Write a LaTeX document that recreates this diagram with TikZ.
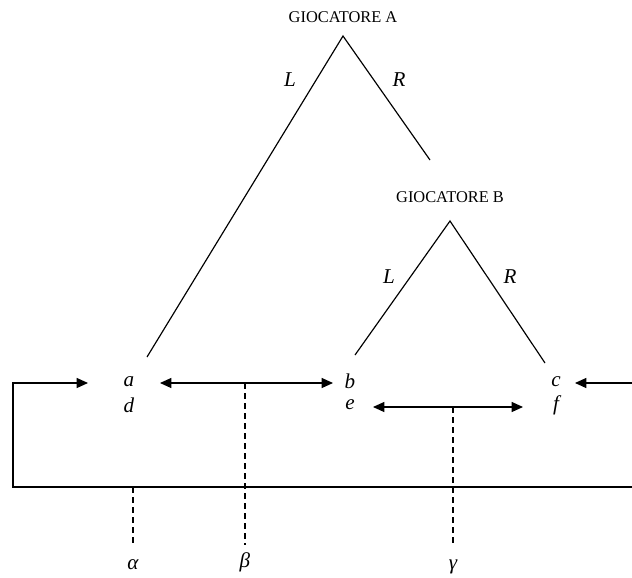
\documentclass[tikz,border=0pt]{standalone}
\usepackage{fontspec}
\setmainfont{Liberation Serif}
\usetikzlibrary{arrows.meta}

\begin{document}
\begin{tikzpicture}[x=0.03cm, y=-0.03cm, line width=1pt,
	player/.style={font=\fontsize{14}{16}\selectfont, inner sep=1pt},
	lbl/.style={font=\fontsize{18}{20}\selectfont\itshape, inner sep=1pt},
	link/.style={{Triangle[length=3.4mm,width=3mm]}-{Triangle[length=3.4mm,width=3mm]}},
	info/.style={dash pattern={on 0.18cm off 0.12cm}}]
	\useasboundingbox (0, 0) rectangle (632, 577);
	% Players and branches:
	\node[player] (gA) at (343, 17){GIOCATORE A};
	\coordinate (A) at (343, 36);
	\coordinate (AL) at (147, 357);
	\coordinate (AR) at (430, 160);
	\draw (AL) -- (A) -- (AR);
	\node[lbl] (LA) at (290, 80){L};
	\node[lbl] (RA) at (399, 80){R};
	\node[player] (gB) at (450, 197){GIOCATORE B};
	\coordinate (B) at (450, 221);
	\coordinate (BL) at (355, 355);
	\coordinate (BR) at (545, 363);
	\draw (BL) -- (B) -- (BR);
	\node[lbl] (LB) at (389, 277){L};
	\node[lbl] (RB) at (510, 277){R};
	% Payoffs:
	\node[lbl] (a) at (129, 382){a};
	\node[lbl] (d) at (129, 405){d};
	\node[lbl] (b) at (350, 381){b};
	\node[lbl] (e) at (350, 405){e};
	\node[lbl] (c) at (556, 382){c};
	\node[lbl] (f) at (556, 405){f};
	% Arrows:
	\draw[link] (160, 383) coordinate (ab1) -- (333, 383) coordinate (ab2);
	\draw[link] (373, 407) coordinate (ef1) -- (523, 407) coordinate (ef2);
	\coordinate (loopR) at (632, 487);
	\coordinate (loopL) at (13, 487);
	\coordinate (loopT) at (13, 383);
	\draw[-{Triangle[length=3.4mm,width=3mm]}] (loopR) -- (loopL) -- (loopT) -- (88, 383);
	\coordinate (inC) at (632, 383);
	\draw[-{Triangle[length=3.4mm,width=3mm]}] (inC) -- (575, 383);
	% Information sets:
	\node[lbl] (alpha) at (133, 565){α};
	\node[lbl] (beta) at (245, 562){β};
	\node[lbl] (gamma) at (453, 567){γ};
	\draw[info] (133, 487) -- (133, 545);
	\draw[info] (245, 383) -- (245, 545);
	\draw[info] (453, 407) -- (453, 545);
\end{tikzpicture}
\end{document}
